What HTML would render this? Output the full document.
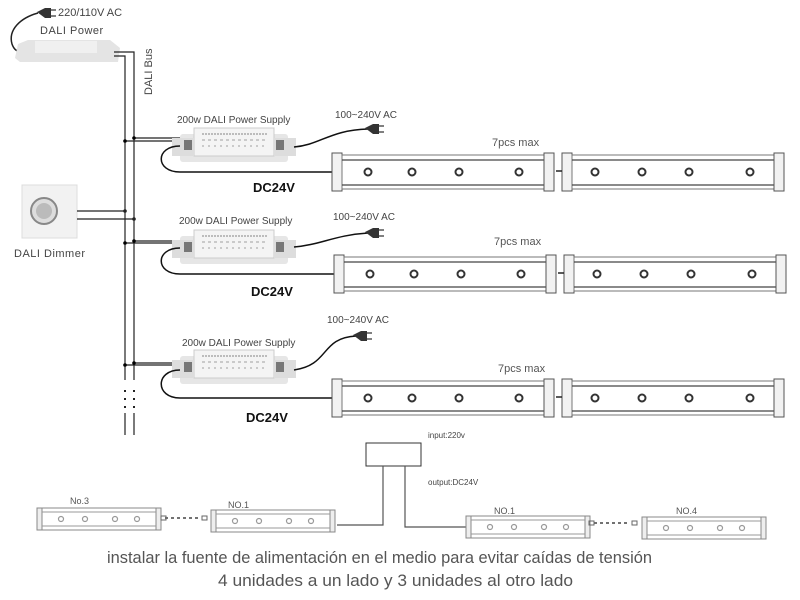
<!DOCTYPE html>
<html><head><meta charset="utf-8"><style>
html,body{margin:0;padding:0;background:#fff;}
svg{display:block;font-family:"Liberation Sans",sans-serif;}
</style></head><body>
<svg width="800" height="600" viewBox="0 0 800 600" xmlns="http://www.w3.org/2000/svg">
<defs>
<g id="bar">
  <rect x="0" y="0" width="224" height="38" fill="#fff"/>
  <rect x="0" y="0" width="10" height="38" fill="#f2f2f2" stroke="#555" stroke-width="1"/>
  <rect x="10" y="2" width="202" height="34" fill="#fff" stroke="#777" stroke-width="1"/>
  <line x1="10" y1="7" x2="212" y2="7" stroke="#444" stroke-width="1.2"/>
  <line x1="10" y1="32" x2="212" y2="32" stroke="#444" stroke-width="1.2"/>
  <rect x="212" y="0" width="10" height="38" fill="#f2f2f2" stroke="#555" stroke-width="1"/>
</g>
<g id="ps">
  <rect x="8" y="6" width="108" height="28" rx="3" fill="#e6e6e6"/>
  <rect x="22" y="0" width="80" height="28" fill="#f4f4f4" stroke="#ccc"/>
  <rect x="0" y="10" width="22" height="18" fill="#ddd"/>
  <rect x="102" y="10" width="22" height="18" fill="#ddd"/>
  <rect x="12" y="12" width="8" height="10" fill="#777"/>
  <rect x="104" y="12" width="8" height="10" fill="#777"/>
  <line x1="30" y1="6" x2="95" y2="6" stroke="#aaa" stroke-width="1.5" stroke-dasharray="2 1"/>
  <line x1="30" y1="12" x2="95" y2="12" stroke="#bbb" stroke-width="1.5" stroke-dasharray="3 3"/>
  <line x1="30" y1="18" x2="95" y2="18" stroke="#bbb" stroke-width="1.5" stroke-dasharray="2 4"/>
</g>
<g id="plug">
  <path d="M0,6 L8,2 L14,2 L14,12 L8,12 Z" fill="#333"/>
  <line x1="14" y1="4" x2="19" y2="4" stroke="#555" stroke-width="1.5"/>
  <line x1="14" y1="10" x2="19" y2="10" stroke="#555" stroke-width="1.5"/>
</g>
<g id="sbar">
  <rect x="0" y="0" width="124" height="22" fill="#fff" stroke="#888"/>
  <rect x="0" y="0" width="5" height="22" fill="#eee" stroke="#888"/>
  <rect x="119" y="0" width="5" height="22" fill="#eee" stroke="#888"/>
  <line x1="5" y1="4" x2="119" y2="4" stroke="#999"/>
  <line x1="5" y1="18" x2="119" y2="18" stroke="#999"/>
  <g fill="none" stroke="#999" stroke-width="1.2">
    <circle cx="24" cy="11" r="2.5"/><circle cx="48" cy="11" r="2.5"/><circle cx="78" cy="11" r="2.5"/><circle cx="100" cy="11" r="2.5"/>
  </g>
</g>
</defs>

<!-- DALI power -->
<use href="#plug" x="37" y="6"/>
<text x="58" y="16" font-size="11" fill="#444">220/110V AC</text>
<text x="40" y="34" font-size="11" fill="#444" letter-spacing="0.5">DALI Power</text>
<path d="M38,13 C20,18 8,30 12,44 C14,50 18,52 22,52" fill="none" stroke="#222" stroke-width="1.5"/>
<path d="M18,44 L28,40 L110,40 L120,48 L118,62 L20,62 L15,58 Z" fill="#e4e4e4"/>
<rect x="35" y="41" width="62" height="12" fill="#f0f0f0"/>

<!-- bus -->
<polyline points="114,52 134,52 134,380" fill="none" stroke="#222" stroke-width="1.2"/>
<polyline points="114,56 125,56 125,380" fill="none" stroke="#222" stroke-width="1.2"/>
<line x1="125" y1="413" x2="125" y2="435" stroke="#222" stroke-width="1.2"/>
<line x1="134" y1="413" x2="134" y2="435" stroke="#222" stroke-width="1.2"/>
<g fill="#222">
<rect x="124" y="390" width="2" height="2"/><rect x="124" y="398" width="2" height="2"/><rect x="124" y="406" width="2" height="2"/>
<rect x="133" y="390" width="2" height="2"/><rect x="133" y="398" width="2" height="2"/><rect x="133" y="406" width="2" height="2"/>
</g>
<text transform="translate(152,95) rotate(-90)" font-size="11" fill="#444">DALI Bus</text>

<!-- dimmer -->
<rect x="22" y="185" width="55" height="53" fill="#f2f2f2" stroke="#ddd"/>
<circle cx="44" cy="211" r="13" fill="#ddd" stroke="#888" stroke-width="2"/>
<circle cx="44" cy="211" r="8" fill="#bbb"/>
<text x="14" y="257" font-size="11" fill="#444" letter-spacing="0.5">DALI Dimmer</text>
<line x1="77" y1="211" x2="125" y2="211" stroke="#222" stroke-width="1.2"/>
<line x1="77" y1="219" x2="134" y2="219" stroke="#222" stroke-width="1.2"/>
<g fill="#222"><circle cx="125" cy="211" r="1.8"/><circle cx="134" cy="219" r="1.8"/></g>

<!-- rows -->
<g>
<line x1="125" y1="141" x2="180" y2="141" stroke="#222" stroke-width="1.2"/>
<line x1="134" y1="138" x2="180" y2="138" stroke="#222" stroke-width="1.2"/>
<circle cx="125" cy="141" r="1.8"/><circle cx="134" cy="138" r="1.8"/>
<text x="177" y="123" font-size="10" fill="#444">200w DALI Power Supply</text>
<use href="#ps" x="172" y="128"/>
<path d="M180,146 C155,146 155,172 180,172 L332,172" fill="none" stroke="#111" stroke-width="1.5"/>
<path d="M294,147 C320,145 330,130 368,129" fill="none" stroke="#111" stroke-width="1.5"/>
<use href="#plug" x="365" y="122"/>
<text x="335" y="118" font-size="10" fill="#444">100~240V AC</text>
<text x="253" y="192" font-size="13" font-weight="bold" fill="#111">DC24V</text>
<text x="492" y="146" font-size="11" fill="#555">7pcs max</text>
<use href="#bar" x="332" y="153"/>
<use href="#bar" x="562" y="153"/>
<line x1="556" y1="171" x2="562" y2="171" stroke="#222" stroke-width="1.5"/>
</g>

<g>
<line x1="125" y1="243" x2="180" y2="243" stroke="#222" stroke-width="1.2"/>
<line x1="134" y1="241" x2="180" y2="241" stroke="#222" stroke-width="1.2"/>
<circle cx="125" cy="243" r="1.8"/><circle cx="134" cy="241" r="1.8"/>
<text x="179" y="224" font-size="10" fill="#444">200w DALI Power Supply</text>
<use href="#ps" x="172" y="230"/>
<path d="M180,248 C155,248 155,274 180,274 L334,274" fill="none" stroke="#111" stroke-width="1.5"/>
<path d="M294,247 C320,245 335,235 368,233" fill="none" stroke="#111" stroke-width="1.5"/>
<use href="#plug" x="365" y="226"/>
<text x="333" y="220" font-size="10" fill="#444">100~240V AC</text>
<text x="251" y="296" font-size="13" font-weight="bold" fill="#111">DC24V</text>
<text x="494" y="245" font-size="11" fill="#555">7pcs max</text>
<use href="#bar" x="334" y="255"/>
<use href="#bar" x="564" y="255"/>
<line x1="558" y1="273" x2="564" y2="273" stroke="#222" stroke-width="1.5"/>
</g>

<g>
<line x1="125" y1="365" x2="180" y2="365" stroke="#222" stroke-width="1.2"/>
<line x1="134" y1="363" x2="180" y2="363" stroke="#222" stroke-width="1.2"/>
<circle cx="125" cy="365" r="1.8"/><circle cx="134" cy="363" r="1.8"/>
<text x="182" y="346" font-size="10" fill="#444">200w DALI Power Supply</text>
<use href="#ps" x="172" y="350"/>
<path d="M180,370 C155,370 155,398 180,398 L332,398" fill="none" stroke="#111" stroke-width="1.5"/>
<path d="M294,370 C330,365 320,338 356,336" fill="none" stroke="#111" stroke-width="1.5"/>
<use href="#plug" x="353" y="329"/>
<text x="327" y="323" font-size="10" fill="#444">100~240V AC</text>
<text x="246" y="422" font-size="13" font-weight="bold" fill="#111">DC24V</text>
<text x="498" y="372" font-size="11" fill="#555">7pcs max</text>
<use href="#bar" x="332" y="379"/>
<use href="#bar" x="562" y="379"/>
<line x1="556" y1="397" x2="562" y2="397" stroke="#222" stroke-width="1.5"/>
</g>

<!-- circles on bars -->
<g fill="#fff" stroke="#333" stroke-width="2">
<circle cx="368" cy="172" r="3.5"/><circle cx="412" cy="172" r="3.5"/><circle cx="459" cy="172" r="3.5"/><circle cx="519" cy="172" r="3.5"/>
<circle cx="595" cy="172" r="3.5"/><circle cx="642" cy="172" r="3.5"/><circle cx="689" cy="172" r="3.5"/><circle cx="750" cy="172" r="3.5"/>
<circle cx="370" cy="274" r="3.5"/><circle cx="414" cy="274" r="3.5"/><circle cx="461" cy="274" r="3.5"/><circle cx="521" cy="274" r="3.5"/>
<circle cx="597" cy="274" r="3.5"/><circle cx="644" cy="274" r="3.5"/><circle cx="691" cy="274" r="3.5"/><circle cx="752" cy="274" r="3.5"/>
<circle cx="368" cy="398" r="3.5"/><circle cx="412" cy="398" r="3.5"/><circle cx="459" cy="398" r="3.5"/><circle cx="519" cy="398" r="3.5"/>
<circle cx="595" cy="398" r="3.5"/><circle cx="642" cy="398" r="3.5"/><circle cx="689" cy="398" r="3.5"/><circle cx="750" cy="398" r="3.5"/>
</g>

<!-- bottom -->
<rect x="366" y="443" width="55" height="23" fill="#fff" stroke="#333"/>
<text x="428" y="438" font-size="8" fill="#444">input:220v</text>
<text x="428" y="485" font-size="8" fill="#444">output:DC24V</text>
<polyline points="383,466 383,525 337,525" fill="none" stroke="#555" stroke-width="1.2"/>
<polyline points="405,466 405,527 466,527" fill="none" stroke="#555" stroke-width="1.2"/>
<use href="#sbar" x="37" y="508"/>
<use href="#sbar" x="211" y="510"/>
<use href="#sbar" x="466" y="516"/>
<use href="#sbar" x="642" y="517"/>
<line x1="165" y1="518" x2="200" y2="518" stroke="#444" stroke-width="1.5" stroke-dasharray="3 3"/>
<line x1="594" y1="523" x2="630" y2="523" stroke="#444" stroke-width="1.5" stroke-dasharray="3 3"/>
<rect x="161" y="516" width="5" height="4" fill="none" stroke="#666"/>
<rect x="202" y="516" width="5" height="4" fill="none" stroke="#666"/>
<rect x="589" y="521" width="5" height="4" fill="none" stroke="#666"/>
<rect x="632" y="521" width="5" height="4" fill="none" stroke="#666"/>
<text x="70" y="504" font-size="9" fill="#555">No.3</text>
<text x="228" y="508" font-size="9" fill="#555">NO.1</text>
<text x="494" y="514" font-size="9" fill="#555">NO.1</text>
<text x="676" y="514" font-size="9" fill="#555">NO.4</text>
<text x="107" y="563" font-size="17" fill="#555" textLength="545" lengthAdjust="spacingAndGlyphs">instalar la fuente de alimentación en el medio para evitar caídas de tensión</text>
<text x="218" y="586" font-size="17" fill="#555" textLength="355" lengthAdjust="spacingAndGlyphs">4 unidades a un lado y 3 unidades al otro lado</text>
</svg>
</body></html>
